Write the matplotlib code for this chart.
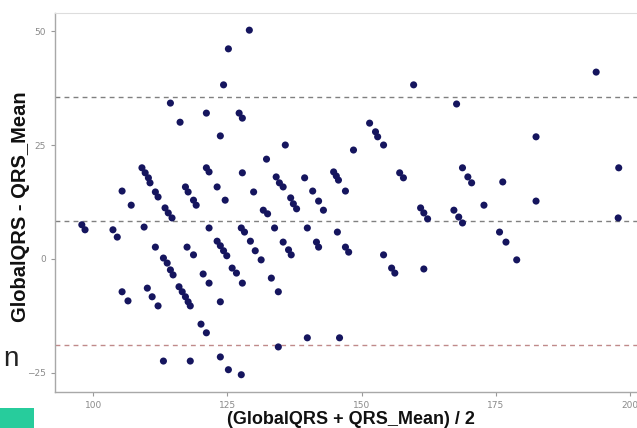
import matplotlib
matplotlib.use("Agg")
import matplotlib.pyplot as plt
from matplotlib.patches import Rectangle

# Bland-Altman data: mean of the two methods vs. their difference
mean_vals = [
    97.9, 98.5, 103.7, 104.5, 105.4, 107.1, 109.5, 109.1, 109.7, 110.3, 110.6,
    111.6, 112.1, 113.4, 114.0, 114.7, 111.6, 113.1, 113.8, 114.4, 114.9, 116.0,
    116.6, 117.2, 117.7, 118.1, 105.4, 106.5, 110.1, 111.0, 112.1, 113.1, 120.1,
    121.1, 118.1, 123.7, 125.2, 127.6,
    114.4, 116.2, 121.1, 125.2, 124.3, 127.2, 127.8, 123.7, 129.1, 132.3, 121.1,
    121.6, 127.8, 134.1, 117.2, 117.7, 123.1, 129.9, 118.7, 119.2, 124.6, 131.7,
    132.5, 121.6, 127.6, 128.2, 133.8, 117.5, 118.7, 123.1, 123.7, 124.3, 124.9,
    129.3, 130.2, 131.3, 120.5, 121.6, 125.9, 126.7, 127.8, 133.2, 134.5, 123.7,
    134.5,
    135.8, 148.5, 151.5, 152.6, 153.0, 154.1, 159.7, 167.7, 182.5, 197.9, 134.7,
    135.4, 139.4, 144.8, 145.3, 145.7, 140.9, 147.0, 157.1, 157.8, 168.8, 169.8,
    170.5, 176.3, 182.5, 136.8, 137.3, 137.9, 142.0, 142.9, 161.0, 161.6, 162.3,
    167.2, 168.1, 168.8, 172.8, 197.8, 139.9, 145.5, 135.4, 136.4, 136.9, 141.6,
    142.0, 147.0, 147.6, 175.7, 176.9, 178.9, 154.1, 155.6, 156.2, 161.6, 193.7,
    139.9, 145.9,
]
diff_vals = [
    7.5, 6.4, 6.4, 4.8, 14.9, 11.8, 7.0, 20.0, 18.9, 17.8, 16.7,
    14.7, 13.6, 11.2, 10.1, 9.0, 2.6, 0.2, -0.9, -2.4, -3.5, -6.1,
    -7.2, -8.3, -9.4, -10.3, -7.2, -9.2, -6.4, -8.3, -10.3, -22.4, -14.3,
    -16.2, -22.4, -21.5, -24.3, -25.4,
    34.2, 30.0, 32.0, 46.1, 38.2, 32.0, 30.9, 27.0, 50.2, 21.9, 20.0,
    19.1, 18.9, 18.0, 15.8, 14.7, 15.8, 14.7, 12.9, 11.8, 12.9, 10.7,
    9.9, 6.8, 6.8, 5.9, 6.8, 2.6, 0.9, 3.9, 2.9, 1.8, 0.7,
    3.9, 1.8, -0.2, -3.3, -5.3, -2.0, -3.1, -5.3, -4.2, -7.2, -9.4,
    -19.3,
    25.0, 23.9, 29.8, 27.9, 26.8, 25.0, 38.2, 34.0, 26.8, 20.0, 16.7,
    15.8, 17.8, 19.1, 18.2, 17.3, 14.9, 14.9, 18.9, 17.8, 20.0, 18.0,
    16.7, 16.9, 12.7, 13.4, 12.1, 11.0, 12.7, 10.7, 11.2, 10.1, 8.8,
    10.7, 9.2, 7.9, 11.8, 9.0, 6.8, 5.9, 3.7, 2.0, 0.9, 3.7,
    2.6, 2.6, 1.5, 5.9, 3.7, -0.2, 0.9, -2.0, -3.1, -2.2, 41.0,
    -17.3, -17.3,
]

mean_diff = 8.3
upper_loa = 35.5
lower_loa = -18.9

x_ticks = [100, 125, 150, 175, 200]
y_ticks = [-25, 0, 25, 50]

fig = plt.figure(figsize=(6.37, 4.28), dpi=100)
fig.patch.set_facecolor("white")

ax = fig.add_axes([0.0863, 0.084, 0.928, 0.886])
ax.set_facecolor("white")

ax.scatter(mean_vals, diff_vals, s=26, color="#15155e", edgecolors="none", zorder=3)

ax.axhline(upper_loa, color="#808080", lw=1.0, ls=(0, (3.5, 3)), zorder=2)
ax.axhline(mean_diff, color="#808080", lw=1.0, ls=(0, (3.5, 3)), zorder=2)
ax.axhline(lower_loa, color="#c08a8a", lw=1.0, ls=(0, (3.5, 3)), zorder=2)

ax.set_xlim(92.9, 203.0)
ax.set_ylim(-29.2, 54.0)
ax.set_xticks(x_ticks)
ax.set_yticks(y_ticks)
ax.tick_params(axis="both", colors="#9a9a9a", labelsize=6.5, length=3, width=0.8,
               labelcolor="#8a8a8a")

for side in ["top", "right"]:
    ax.spines[side].set_color("#dddddd")
    ax.spines[side].set_linewidth(0.8)
for side in ["left", "bottom"]:
    ax.spines[side].set_color("#a8a8a8")
    ax.spines[side].set_linewidth(1.0)

ax.set_xlabel("(GlobalQRS + QRS_Mean) / 2", family="Liberation Sans", fontsize=13,
              fontweight="bold", color="#111111")
ax.set_ylabel("GlobalQRS - QRS_Mean", family="Liberation Sans", fontsize=14.5,
              fontweight="bold", color="#111111")
ax.xaxis.set_label_coords(0.5, -0.083)
ax.xaxis.label.set_va("baseline")
ax.yaxis.set_label_coords(-0.059, 0.49)
ax.yaxis.label.set_va("center")

# slide elements around the chart
fig.text(0.005, 0.145, "n", fontsize=20, family="Liberation Sans", color="#222222")
fig.patches.append(Rectangle((0, 0), 0.053, 0.047, transform=fig.transFigure,
                             facecolor="#27cc9c", edgecolor="none", zorder=0))

fig.savefig("out.png", dpi=100)
